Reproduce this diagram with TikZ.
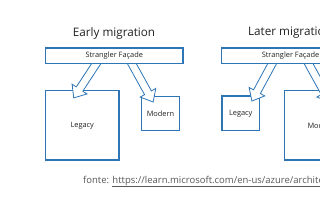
\documentclass[tikz,border=0pt]{standalone}
\usepackage{fontspec}
\setmainfont{Open Sans}
\usetikzlibrary{shapes.arrows,calc}
\definecolor{boxblue}{HTML}{2E75B6}
\definecolor{fontegray}{HTML}{595959}
\definecolor{txt}{HTML}{222222}
\newcommand\blockarrow[2]{\path let \p1=($(#2)-(#1)$) in node[barrow, minimum height={veclen(\x1,\y1)}, rotate={atan2(\y1,\x1)}] at ($(#1)!0.5!(#2)$) {};}
\begin{document}
\begin{tikzpicture}[x=1pt,y=-1pt,
  box/.style={draw=boxblue,line width=1.4pt,fill=white,inner sep=0pt,text=txt,font=\fontsize{7.4}{8}\selectfont},
  ttl/.style={font=\fontsize{11.7}{13}\selectfont,text=txt,inner sep=0pt},
  barrow/.style={single arrow,draw=boxblue,fill=white,line width=0.8pt,inner xsep=0pt,inner ysep=3.5pt,single arrow head extend=5pt,single arrow tip angle=80},
  fonte/.style={font=\fontsize{9.5}{10}\selectfont,text=fontegray,inner sep=0pt}]
\useasboundingbox (0,0) rectangle (320,213);
\clip (0,0) rectangle (320,213);
\fill[white] (0,0) rectangle (320,213);
% titles
\node[ttl] (t1) at (114,33) {Early migration};
\node[ttl] (t2) at (290,33) {Later migration};
% left lower boxes
\node[box,minimum width=73.5pt,minimum height=69.5pt] (leg1) at (82.25,125.25) {Legacy};
\node[box,minimum width=38pt,minimum height=34pt] (mod1) at (160.5,113.5) {Modern};
% right lower boxes
\node[box,minimum width=37.5pt,minimum height=34.5pt] (leg2) at (240.75,113.25) {Legacy};
\node[box,minimum width=73.5pt,minimum height=69.5pt] (mod2) at (321.25,125.25) {Modern};
% arrow ends
\coordinate (a1s) at (101.25,56);
\coordinate (a1t) at (75,96);
\coordinate (a2s) at (127.6,56);
\coordinate (a2t) at (152,100);
\coordinate (b1s) at (276.3,56);
\coordinate (b1t) at (253,99);
\coordinate (b2s) at (304.3,56);
\coordinate (b2t) at (328.7,100);
\blockarrow{a1s}{a1t}
\blockarrow{a2s}{a2t}
\blockarrow{b1s}{b1t}
\blockarrow{b2s}{b2t}
% facade boxes
\node[box,minimum width=137.5pt,minimum height=15.5pt] (f1) at (114.25,55.75) {Strangler Façade};
\node[box,minimum width=137.5pt,minimum height=15.5pt] (f2) at (290.5,55.75) {Strangler Façade};
% source
\node[fonte,anchor=base west] (src) at (83,183) {fonte: \underline{https://learn.microsoft.com/en-us/azure/architecture/patterns/strangler-fig}};
\end{tikzpicture}
\end{document}
